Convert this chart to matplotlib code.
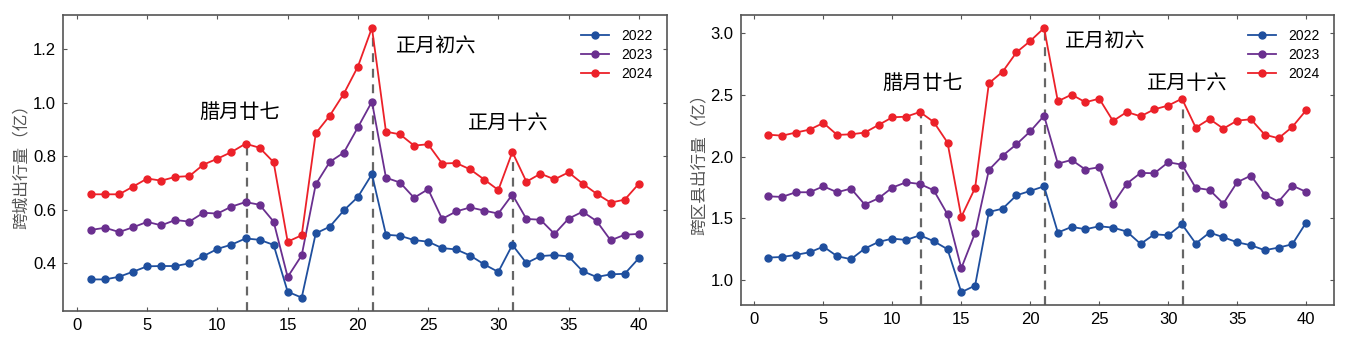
import matplotlib
matplotlib.use('Agg')
import matplotlib.pyplot as plt
import numpy as np

plt.rcParams['font.family'] = ['Liberation Sans', 'Noto Sans CJK SC', 'DejaVu Sans']

days = np.arange(1, 41)
years = ['2022', '2023', '2024']

# 跨城出行量 (left panel)
city_2022 = [0.340, 0.340, 0.350, 0.369, 0.389, 0.390, 0.390, 0.400, 0.427, 0.454,
             0.470, 0.493, 0.488, 0.469, 0.294, 0.272, 0.512, 0.537, 0.598, 0.648,
             0.733, 0.507, 0.503, 0.487, 0.481, 0.457, 0.452, 0.429, 0.396, 0.368,
             0.469, 0.401, 0.427, 0.431, 0.426, 0.371, 0.349, 0.359, 0.361, 0.419]
city_2023 = [0.525, 0.533, 0.517, 0.535, 0.555, 0.542, 0.562, 0.556, 0.589, 0.586,
             0.612, 0.629, 0.619, 0.556, 0.349, 0.430, 0.695, 0.779, 0.814, 0.908,
             1.004, 0.720, 0.702, 0.645, 0.677, 0.566, 0.594, 0.609, 0.597, 0.586,
             0.657, 0.566, 0.563, 0.510, 0.567, 0.593, 0.558, 0.486, 0.507, 0.510]
city_2024 = [0.658, 0.658, 0.658, 0.687, 0.717, 0.709, 0.723, 0.726, 0.769, 0.791,
             0.816, 0.847, 0.832, 0.778, 0.481, 0.505, 0.886, 0.952, 1.034, 1.135,
             1.280, 0.892, 0.882, 0.840, 0.845, 0.773, 0.775, 0.751, 0.713, 0.674,
             0.816, 0.705, 0.735, 0.714, 0.740, 0.698, 0.660, 0.627, 0.638, 0.697]

# 跨区县出行量 (right panel)
county_2022 = [1.181, 1.186, 1.203, 1.224, 1.270, 1.192, 1.168, 1.254, 1.308, 1.335,
               1.324, 1.362, 1.314, 1.249, 0.900, 0.954, 1.551, 1.578, 1.686, 1.722,
               1.759, 1.384, 1.430, 1.411, 1.435, 1.424, 1.392, 1.292, 1.370, 1.362,
               1.451, 1.295, 1.384, 1.346, 1.305, 1.281, 1.241, 1.262, 1.289, 1.465]
county_2023 = [1.678, 1.673, 1.711, 1.711, 1.759, 1.711, 1.741, 1.611, 1.662, 1.749,
               1.792, 1.778, 1.727, 1.532, 1.095, 1.381, 1.892, 2.008, 2.100, 2.205,
               2.332, 1.943, 1.973, 1.895, 1.914, 1.616, 1.781, 1.868, 1.865, 1.954,
               1.935, 1.746, 1.730, 1.619, 1.792, 1.846, 1.692, 1.635, 1.765, 1.714]
county_2024 = [2.178, 2.170, 2.195, 2.219, 2.273, 2.176, 2.181, 2.195, 2.257, 2.319,
               2.324, 2.362, 2.281, 2.114, 1.511, 1.746, 2.595, 2.689, 2.846, 2.938,
               3.043, 2.449, 2.503, 2.441, 2.470, 2.289, 2.362, 2.327, 2.384, 2.414,
               2.470, 2.235, 2.305, 2.227, 2.292, 2.303, 2.178, 2.149, 2.241, 2.376]

event_days = [12, 21, 31]
event_labels = ['腊月廿七', '正月初六', '正月十六']

colors = ['#1f4f9e', '#6a2f8f', '#ec2129']

fig = plt.figure(figsize=(13.54, 3.43), dpi=100)
ax1 = fig.add_axes([0.0465, 0.0933, 0.446, 0.863])
ax2 = fig.add_axes([0.547, 0.111, 0.438, 0.845])

panels = [
    (ax1, [city_2022, city_2023, city_2024], '跨城出行量（亿）', (0.222, 1.328),
     [0.4, 0.6, 0.8, 1.0, 1.2], [(11.6, 0.962), (25.6, 1.21), (30.7, 0.923)]),
    (ax2, [county_2022, county_2023, county_2024], '跨区县出行量（亿）', (0.797, 3.148),
     [1.0, 1.5, 2.0, 2.5, 3.0], [(12.2, 2.595), (25.45, 2.933), (31.4, 2.595)]),
]

for ax, series, ylabel, ylim, yticks, label_pos in panels:
    for vals, year, c in zip(series, years, colors):
        ax.plot(days, vals, '-o', color=c, lw=1.3, ms=5, label=year)
    top = series[2]
    for d, (tx, ty), txt in zip(event_days, label_pos, event_labels):
        ax.vlines(d + 0.08, ylim[0], top[d - 1], colors='#666666',
                  linestyles=(0, (4, 3)), lw=1.6, zorder=1)
        ax.text(tx, ty, txt, ha='center', va='center', fontsize=14.5,
                family=['Noto Sans CJK SC', 'DejaVu Sans'])
    ax.set_xlim(-1, 42)
    ax.set_ylim(*ylim)
    ax.set_xticks([0, 5, 10, 15, 20, 25, 30, 35, 40])
    ax.set_yticks(yticks)
    ax.set_yticklabels(['%.1f' % t for t in yticks])
    ax.tick_params(direction='in', top=True, right=True, length=3,
                   labelsize=12, color='#555555', pad=5)
    for s in ax.spines.values():
        s.set_color('#555555')
        s.set_linewidth(1.2)
    ax.set_ylabel(ylabel, fontsize=12, color='#555555',
                  family=['Noto Sans CJK SC', 'DejaVu Sans'], labelpad=2)
    ax.legend(loc='upper right', frameon=False, fontsize=10,
              handlelength=2.0, labelspacing=0.35, borderaxespad=0.6,
              handletextpad=0.9)

fig.savefig('out.png', dpi=100)
